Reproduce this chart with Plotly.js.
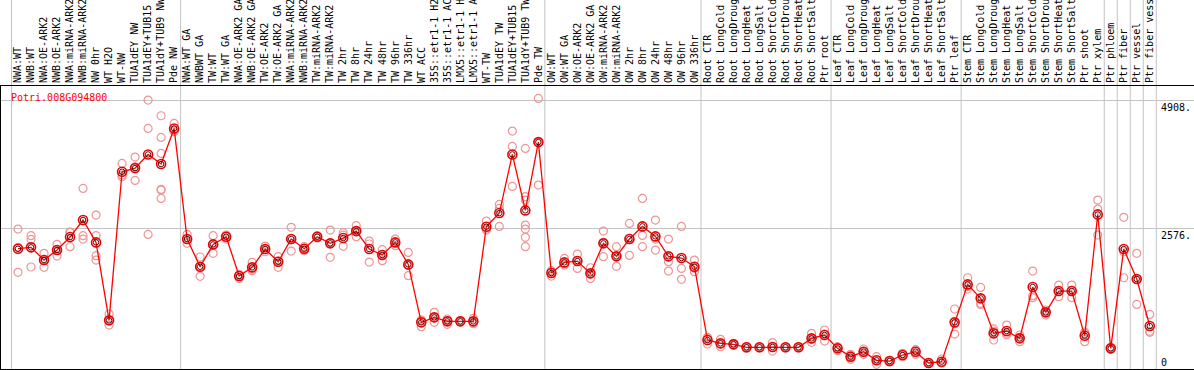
<!DOCTYPE html>
<html>
<head>
<meta charset="utf-8">
<script src="https://cdn.plot.ly/plotly-3.0.1.min.js"></script>
<style>
  html, body { margin: 0; padding: 0; background: #fff; }
  #chart { width: 1194px; height: 370px; }
</style>
</head>
<body>
<div id="chart"></div>
<script>
const geneName = "Potri.008G094800";

const categories = [
  "NWA:WT", "NWB:WT", "NWA:OE-ARK2", "NWB:OE-ARK2", "NWA:miRNA-ARK2", "NWB:miRNA-ARK2",
  "NW 0hr", "WT H2O", "WT-NW", "TUA1dEY NW", "TUA1dEY+TUB15 NW", "TUA1dY+TUB9 NW", "Pde NW",
  "NWA:WT GA", "NWBWT GA", "TW:WT", "TW:WT GA", "NWA:OE-ARK2 GA", "NWB:OE-ARK2 GA",
  "TW:OE-ARK2", "TW:OE-ARK2 GA", "NWA:miRNA-ARK2 GA", "NWB:miRNA-ARK2 GA", "TW:miRNA-ARK2",
  "TW:miRNA-ARK2 GA", "TW 2hr", "TW 8hr", "TW 24hr", "TW 48hr", "TW 96hr", "TW 336hr",
  "WT ACC", "35S::etr1-1 H2O", "35S::etr1-1 ACC", "LMX5::etr1-1 H2O", "LMX5::etr1-1 ACC",
  "WT-TW", "TUA1dEY TW", "TUA1dEY+TUB15 TW", "TUA1dY+TUB9 TW", "Pde TW",
  "OW:WT", "OW:WT GA", "OW:OE-ARK2", "OW:OE-ARK2 GA", "OW:miRNA-ARK2", "OW:miRNA-ARK2 GA",
  "OW 2hr", "OW 8hr", "OW 24hr", "OW 48hr", "OW 96hr", "OW 336hr",
  "Root CTR", "Root LongCold", "Root LongDrought", "Root LongHeat", "Root LongSalt",
  "Root ShortCold", "Root ShortDrought", "Root ShortHeat", "Root ShortSalt", "Ptr root",
  "Leaf CTR", "Leaf LongCold", "Leaf LongDrought", "Leaf LongHeat", "Leaf LongSalt",
  "Leaf ShortCold", "Leaf ShortDrought", "Leaf ShortHeat", "Leaf ShortSalt", "Ptr leaf",
  "Stem CTR", "Stem LongCold", "Stem LongDrought", "Stem LongHeat", "Stem LongSalt",
  "Stem ShortCold", "Stem ShortDrought", "Stem ShortHeat", "Stem ShortSalt", "Ptr shoot",
  "Ptr xylem", "Ptr phloem", "Ptr fiber", "Ptr vessel", "Ptr fiber vessel"
];

const means = [
  2202, 2227, 1995, 2178, 2416, 2727, 2318, 891, 3611, 3678, 3928, 3752, 4404,
  2379, 1873, 2281, 2422, 1702, 1861, 2196, 1964, 2379, 2202, 2422, 2300, 2397, 2525,
  2196, 2086, 2318, 1915, 854, 946, 872, 872, 872, 2605, 2855, 3928, 2904, 4154,
  1757, 1952, 1976, 1751, 2300, 2062, 2379, 2611, 2428, 2062, 2031, 1873,
  531, 470, 451, 397, 397, 403, 397, 397, 561, 622,
  378, 226, 317, 159, 146, 256, 317, 110, 134, 854,
  1549, 1293, 653, 695, 561, 1501, 1037, 1427, 1427, 610, 2830,
  378, 2196, 1647, 787
];

const replicates = [
  [2562, 2227, 1769], [2440, 2373, 1867], [2117, 1861, 1995], [2281, 2068, 2178],
  [2507, 2239, 2502], [3306, 2440, 2379], [2818, 2440, 2074, 1995], [1007, 805, 891],
  [3764, 3520, 3550], [3880, 3453, 3700], [4923, 4404, 2464],
  [4636, 4240, 3947, 3288, 3276, 3123], [4496, 4343, 4370],
  [2464, 2300, 2375], [2050, 1696, 1873], [2440, 2117, 2285], [2452, 2379, 2434],
  [1732, 1659, 1715], [1952, 1800, 1830], [2251, 2147, 2190], [2056, 1861, 1975],
  [2593, 2159, 2385], [2239, 2166, 2202], [2440, 2400, 2426], [2544, 2044, 2312],
  [2495, 2245, 2450], [2623, 2422, 2530], [2342, 1958, 2288], [2184, 1983, 2090],
  [2379, 2257, 2318], [2135, 1708, 1900], [897, 775, 890], [1037, 854, 946],
  [915, 817, 885], [880, 865, 871], [927, 830, 860], [2708, 2544, 2563],
  [3013, 2940, 2611], [4355, 4075, 3343], [4038, 3154, 3093, 2635, 2562, 2410, 2239],
  [4953, 4148, 3367],
  [1800, 1702, 1769], [2025, 1903, 1928], [2104, 1842, 1982], [1854, 1659, 1740],
  [2525, 2056, 2319], [2239, 1879, 2068], [2666, 2080, 2391], [3123, 2446, 2239],
  [2727, 2178, 2379], [2379, 1964, 1793], [2611, 1842, 1641], [1995, 1781, 1843],
  [580, 458, 555], [543, 409, 458], [470, 440, 443], [410, 380, 400], [405, 388, 398],
  [482, 329, 398], [405, 385, 400], [410, 390, 390], [653, 488, 543], [714, 512, 640],
  [409, 336, 390], [268, 177, 232], [366, 268, 317], [226, 85, 165], [160, 130, 148],
  [287, 226, 256], [354, 268, 330], [115, 100, 115], [183, 110, 110], [1098, 640, 825],
  [1671, 1464, 1512], [1494, 1202, 1183], [695, 531, 733], [805, 653, 627],
  [622, 500, 561], [1793, 1342, 1305], [1080, 988, 1043], [1537, 1324, 1421],
  [1537, 1305, 1440], [653, 500, 677], [3093, 2928, 2452],
  [395, 360, 380], [2776, 2147, 1671], [2117, 1183, 1640], [1000, 671, 690]
];

// group boundaries (after these category names)
const groupEnds = ["Pde NW", "Pde TW", "OW 336hr", "Ptr root", "Ptr leaf",
                   "Ptr xylem", "Ptr phloem", "Ptr fiber", "Ptr vessel", "Ptr fiber vessel"];

const yTicks = [2576, 4908];
const yTickText = ["2576.", "4908."];
const yZeroTick = [0];
const yZeroText = ["0"];

const yMax = 5181;
const mono = "DejaVu Sans Mono, monospace";

const repX = [], repY = [];
replicates.forEach((reps, i) => reps.forEach(v => { repX.push(categories[i]); repY.push(v); }));

const traces = [
  {
    x: repX, y: repY, type: "scatter", mode: "markers",
    marker: { symbol: "circle-open", size: 8, color: "rgb(238,150,150)", line: { width: 1.2 } },
    hoverinfo: "x+y", showlegend: false
  },
  {
    x: categories, y: means, type: "scatter", mode: "lines+markers",
    line: { color: "rgb(255,0,0)", width: 1.3 },
    marker: { symbol: "circle-open", size: 9, color: "rgb(235,0,0)", line: { width: 1.6 } },
    showlegend: false
  },
  {
    x: categories, y: means, type: "scatter", mode: "markers",
    marker: { symbol: "circle-open", size: 5.5, color: "rgb(40,0,0)", line: { width: 0.9 } },
    showlegend: false, hoverinfo: "skip"
  },
  { x: [], y: [], yaxis: "y2", type: "scatter", mode: "markers", showlegend: false, hoverinfo: "skip" },
  { x: [], y: [], yaxis: "y3", type: "scatter", mode: "markers", showlegend: false, hoverinfo: "skip" }
];

const shapes = [{
  type: "line", xref: "x", yref: "paper", x0: -0.5, x1: -0.5, y0: 0, y1: 1.5,
  line: { color: "rgb(195,195,195)", width: 1 }, layer: "below"
}];
groupEnds.forEach(name => {
  const b = categories.indexOf(name) + 0.5;
  shapes.push({
    type: "line", xref: "x", yref: "paper", x0: b, x1: b, y0: 0, y1: 1.5,
    line: { color: "rgb(195,195,195)", width: 1 }, layer: "below"
  });
});

const layout = {
  width: 1194, height: 370,
  margin: { l: 1, r: 0, t: 86, b: 1, pad: 0 },
  paper_bgcolor: "#fff", plot_bgcolor: "#fff",
  showlegend: false,
  xaxis: {
    type: "category", side: "top", categoryorder: "array", categoryarray: categories,
    range: [-1.307, 90.40], tickangle: -90, ticks: "",
    tickfont: { family: mono, size: 10, color: "#000" },
    showgrid: false, zeroline: false, showline: true, mirror: true,
    linecolor: "#000", linewidth: 1, automargin: false, fixedrange: true
  },
  yaxis: {
    range: [0, yMax], tickvals: yTicks, showticklabels: false, ticks: "",
    showgrid: true, gridcolor: "rgb(195,195,195)", gridwidth: 1,
    zeroline: false, showline: true, linecolor: "#000", linewidth: 1,
    automargin: false, fixedrange: true
  },
  yaxis2: {
    overlaying: "y", side: "right", anchor: "free", position: 0.9715,
    range: [0, yMax], tickvals: yTicks, ticktext: yTickText,
    ticklabelposition: "outside bottom", ticks: "",
    tickfont: { family: mono, size: 10, color: "#000" },
    showgrid: false, zeroline: false, showline: false, automargin: false, fixedrange: true
  },
  yaxis3: {
    overlaying: "y", side: "right", anchor: "free", position: 0.9715,
    range: [0, yMax], tickvals: yZeroTick, ticktext: yZeroText,
    ticklabelposition: "outside top", ticks: "",
    tickfont: { family: mono, size: 10, color: "#000" },
    showgrid: false, zeroline: false, showline: false, automargin: false, fixedrange: true
  },
  shapes: shapes,
  annotations: [{
    text: geneName, xref: "paper", yref: "paper", x: 0.007, y: 0.96,
    xanchor: "left", yanchor: "middle", showarrow: false,
    font: { family: mono, size: 10, color: "rgb(255,0,0)" }
  }]
};

Plotly.newPlot("chart", traces, layout, { displayModeBar: false, staticPlot: true });
</script>
</body>
</html>
